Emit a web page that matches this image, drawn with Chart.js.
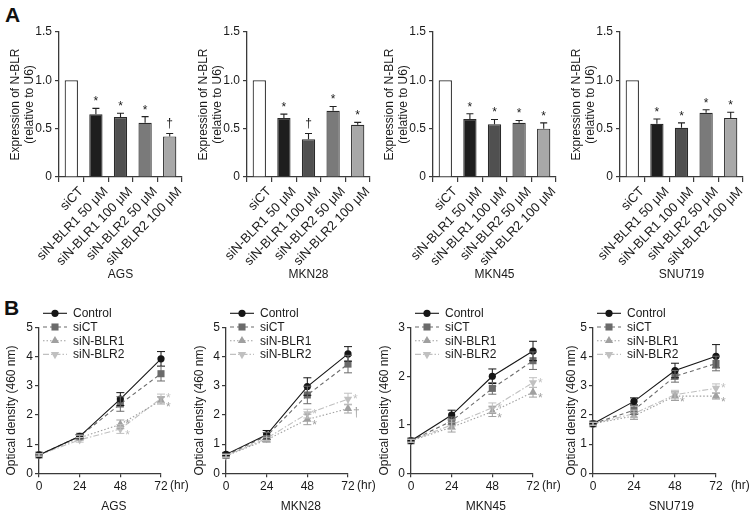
<!DOCTYPE html>
<html><head><meta charset="utf-8">
<script src="https://cdn.jsdelivr.net/npm/chart.js@4/dist/chart.umd.min.js"></script>
<style>
html,body{margin:0;padding:0;background:#fff;}
#wrap{position:relative;width:753px;height:518px;overflow:hidden;font-family:Arial,"Liberation Sans",Helvetica,sans-serif;}
canvas{position:absolute;left:0;top:0;}
.lab{position:absolute;font-weight:bold;font-size:21px;line-height:21px;color:#111;}
</style></head><body>
<div id="wrap">
<div class="lab" style="left:5px;top:4px">A</div>
<div class="lab" style="left:4px;top:297px">B</div>
</div>
<script>
// ---------------- DATA ----------------
const cellLines = ['AGS', 'MKN28', 'MKN45', 'SNU719'];
const barCategories = ['siCT', 'siN-BLR1 50 μM', 'siN-BLR1 100 μM', 'siN-BLR2 50 μM', 'siN-BLR2 100 μM'];
const exprTicks = [0, 0.5, 1.0, 1.5];
const exprTitle = ['Expression of N-BLR', '(relative to U6)'];

const agsExpr = [1.0, 0.65, 0.62, 0.56, 0.42];
const agsExprErr = [0, 0.06, 0.04, 0.065, 0.03];
const agsExprSig = ['', '*', '*', '*', '†'];
const mkn28Expr = [1.0, 0.61, 0.39, 0.685, 0.54];
const mkn28ExprErr = [0, 0.04, 0.06, 0.045, 0.025];
const mkn28ExprSig = ['', '*', '†', '*', '*'];
const mkn45Expr = [1.0, 0.60, 0.545, 0.56, 0.50];
const mkn45ExprErr = [0, 0.055, 0.05, 0.025, 0.06];
const mkn45ExprSig = ['', '*', '*', '*', '*'];
const snu719Expr = [1.0, 0.55, 0.51, 0.665, 0.61];
const snu719ExprErr = [0, 0.05, 0.05, 0.03, 0.06];
const snu719ExprSig = ['', '*', '*', '*', '*'];

const timePoints = [0, 24, 48, 72];
const seriesNames = ['Control', 'siCT', 'siN-BLR1', 'siN-BLR2'];
const odTitle = 'Optical density (460 nm)';
const odTicks5 = [0, 1, 2, 3, 4, 5];
const odTicks3 = [0, 1, 2, 3];

const agsControl = [0.63, 1.27, 2.55, 3.93];
const agsSiCT = [0.63, 1.27, 2.38, 3.42];
const agsBLR1 = [0.63, 1.22, 1.68, 2.50];
const agsBLR2 = [0.63, 1.15, 1.52, 2.57];
const agsControlSD = [0.04, 0.06, 0.22, 0.25];
const agsSiCTSD = [0.04, 0.06, 0.25, 0.25];
const agsBLR1SD = [0.04, 0.08, 0.15, 0.12];
const agsBLR2SD = [0.04, 0.08, 0.15, 0.15];
const agsBLR1Sig = ['', '', '*', '*'];
const agsBLR2Sig = ['', '', '*', '*'];

const mkn28Control = [0.65, 1.32, 2.98, 4.10];
const mkn28SiCT = [0.62, 1.28, 2.69, 3.75];
const mkn28BLR1 = [0.60, 1.15, 1.85, 2.22];
const mkn28BLR2 = [0.60, 1.20, 2.05, 2.55];
const mkn28ControlSD = [0.05, 0.15, 0.30, 0.25];
const mkn28SiCTSD = [0.05, 0.12, 0.30, 0.30];
const mkn28BLR1SD = [0.05, 0.08, 0.18, 0.15];
const mkn28BLR2SD = [0.05, 0.08, 0.15, 0.20];
const mkn28BLR1Sig = ['', '', '*', '†'];
const mkn28BLR2Sig = ['', '', '*', '*'];

const mkn45Control = [0.67, 1.20, 2.00, 2.52];
const mkn45SiCT = [0.67, 1.08, 1.75, 2.32];
const mkn45BLR1 = [0.67, 0.95, 1.27, 1.67];
const mkn45BLR2 = [0.67, 1.00, 1.35, 1.87];
const mkn45ControlSD = [0.03, 0.10, 0.15, 0.20];
const mkn45SiCTSD = [0.03, 0.08, 0.12, 0.18];
const mkn45BLR1SD = [0.03, 0.10, 0.10, 0.10];
const mkn45BLR2SD = [0.03, 0.10, 0.10, 0.10];
const mkn45BLR1Sig = ['', '', '*', '*'];
const mkn45BLR2Sig = ['', '', '*', '*'];

const snu719Control = [1.70, 2.47, 3.53, 4.02];
const snu719SiCT = [1.70, 2.17, 3.33, 3.77];
const snu719BLR1 = [1.70, 1.97, 2.65, 2.65];
const snu719BLR2 = [1.70, 2.05, 2.70, 2.92];
const snu719ControlSD = [0.05, 0.12, 0.25, 0.40];
const snu719SiCTSD = [0.05, 0.15, 0.20, 0.25];
const snu719BLR1SD = [0.05, 0.12, 0.15, 0.10];
const snu719BLR2SD = [0.05, 0.12, 0.15, 0.15];
const snu719BLR1Sig = ['', '', '*', '*'];
const snu719BLR2Sig = ['', '', '', '*'];

// ---------------- STYLE / LAYOUT ----------------
const W = 753, H = 518;
const FONT = 'Arial, "Liberation Sans", Helvetica, sans-serif';
const AX = '#3a3a3a';
const TXT = '#1a1a1a';
const FS = 12;
const FS_CAT = 13;
const BAR_FILLS = ['#ffffff', '#1e1e1e', '#505050', '#7a7a7a', '#a8a8a8'];
const BAR_EDGE = '#2a2a2a';
const LS = [
  {color: '#161616', dash: [], style: 'circle', rot: 0, r: 3.6},
  {color: '#6b6b6b', dash: [4, 3], style: 'rect', rot: 0, r: 5},
  {color: '#a0a0a0', dash: [1.5, 2], style: 'triangle', rot: 0, r: 4.8},
  {color: '#c0c0c0', dash: [6, 2, 1.5, 2], style: 'triangle', rot: 180, r: 4.8}
];

const A_AXIS_X = [59, 247, 433, 620];
const A_PLOT_W = 123, A_TOP = 32, A_BOTTOM = 177, A_YAXIS_W = 50, A_XAXIS_H = 105;
const B_AXIS_X = [39, 226, 411, 593];
const B_PLOT_W = [122, 122, 122, 123];
const B_TOP = 327.7, B_BOTTOM = 473.3, B_YAXIS_W = 35, B_XAXIS_H = 40;
const B_YTITLE_OFF = [27, 26, 26, 21];
const B_HR_GAP = [9, 9, 9, 15];

const wrap = document.getElementById('wrap');
function newCanvas() {
  const c = document.createElement('canvas');
  c.width = W; c.height = H;
  c.style.width = W + 'px'; c.style.height = H + 'px';
  wrap.appendChild(c);
  return c;
}
const font = (size, extra) => Object.assign({family: FONT, size: size || FS}, extra || {});

// ---------- plugins ----------
const barErrPlugin = {
  id: 'barErr',
  afterDatasetsDraw(chart) {
    const ds = chart.data.datasets[0];
    const meta = chart.getDatasetMeta(0);
    const y = chart.scales.y;
    const ctx = chart.ctx;
    ctx.save();
    ctx.strokeStyle = '#222'; ctx.lineWidth = 1.1; ctx.fillStyle = TXT;
    ctx.font = FS + 'px ' + FONT; ctx.textAlign = 'center'; ctx.textBaseline = 'alphabetic';
    meta.data.forEach((bar, i) => {
      const v = ds.data[i], e = ds.errs[i];
      const x = bar.x;
      const yTop = y.getPixelForValue(v), yE = y.getPixelForValue(v + e);
      if (e > 0) {
        ctx.beginPath();
        ctx.moveTo(x, yTop); ctx.lineTo(x, yE);
        ctx.moveTo(x - 3.5, yE); ctx.lineTo(x + 3.5, yE);
        ctx.stroke();
      }
      if (ds.sigs[i]) ctx.fillText(ds.sigs[i], x, yE - (ds.sigs[i] === '*' ? 3 : 6.5));
    });
    ctx.restore();
  }
};

function drawMarker(ctx, st, x, y) {
  ctx.save();
  ctx.fillStyle = st.color; ctx.setLineDash([]);
  ctx.beginPath();
  if (st.style === 'circle') {
    ctx.arc(x, y, st.r, 0, Math.PI * 2);
  } else if (st.style === 'rect') {
    const s = st.r * Math.SQRT1_2;
    ctx.rect(x - s, y - s, 2 * s, 2 * s);
  } else {
    let rad = st.rot * Math.PI / 180;
    const r = st.r;
    ctx.moveTo(x + Math.sin(rad) * r, y - Math.cos(rad) * r);
    rad += 2 * Math.PI / 3;
    ctx.lineTo(x + Math.sin(rad) * r, y - Math.cos(rad) * r);
    rad += 2 * Math.PI / 3;
    ctx.lineTo(x + Math.sin(rad) * r, y - Math.cos(rad) * r);
    ctx.closePath();
  }
  ctx.fill();
  ctx.restore();
}

const lineDecorPlugin = {
  id: 'lineDecor',
  afterDatasetsDraw(chart) {
    const {ctx, scales: {x, y}} = chart;
    const dss = chart.data.datasets;
    dss.forEach((ds, k) => {
      ctx.save();
      ctx.strokeStyle = ds.borderColor; ctx.lineWidth = 1; ctx.setLineDash([]);
      ds.data.forEach((p, j) => {
        const e = ds.errs[j];
        if (!e) return;
        const px = x.getPixelForValue(p.x);
        const y1 = y.getPixelForValue(p.y + e), y2 = y.getPixelForValue(p.y - e);
        ctx.beginPath();
        ctx.moveTo(px, y1); ctx.lineTo(px, y2);
        ctx.moveTo(px - 4, y1); ctx.lineTo(px + 4, y1);
        ctx.moveTo(px - 4, y2); ctx.lineTo(px + 4, y2);
        ctx.stroke();
      });
      if (ds.sigs) {
        const other = dss[k === 2 ? 3 : 2];
        ctx.fillStyle = ds.borderColor;
        ctx.font = FS + 'px ' + FONT; ctx.textAlign = 'left'; ctx.textBaseline = 'alphabetic';
        ds.data.forEach((p, j) => {
          const s = ds.sigs[j];
          if (!s) return;
          const higher = p.y >= other.data[j].y;
          const px = x.getPixelForValue(p.x) + 5;
          const py = y.getPixelForValue(p.y) + (s === '*' ? 7 : 4) + (higher ? -3 : 3);
          ctx.fillText(s, px, py);
        });
      }
      ctx.restore();
    });
  },
  afterDraw(chart) {
    const o = chart.options.plugins.lineDecor;
    const {ctx, chartArea, scales: {x}} = chart;
    ctx.save();
    ctx.font = FS + 'px ' + FONT; ctx.textBaseline = 'middle'; ctx.textAlign = 'left';
    chart.data.datasets.forEach((ds, k) => {
      const st = LS[k];
      const ly = 313.3 + k * 13.7;
      const lx = chartArea.left + 4;
      ctx.strokeStyle = st.color; ctx.lineWidth = 1.1; ctx.setLineDash(st.dash);
      ctx.beginPath(); ctx.moveTo(lx, ly); ctx.lineTo(lx + 24, ly); ctx.stroke();
      ctx.setLineDash([]);
      drawMarker(ctx, st, lx + 12, ly);
      ctx.fillStyle = TXT;
      ctx.fillText(ds.label, lx + 30, ly + 0.5);
    });
    const last = timePoints[timePoints.length - 1];
    const hrX = x.getPixelForValue(last) + o.hrGap;
    ctx.fillStyle = TXT; ctx.textAlign = 'left'; ctx.textBaseline = 'middle';
    ctx.fillText('(hr)', hrX, 485.5);
    const hrEnd = hrX + ctx.measureText('(hr)').width;
    ctx.textAlign = 'center';
    ctx.fillText(o.title, (chartArea.left + hrEnd) / 2, 507);
    ctx.translate(chartArea.left - o.yOff, (chartArea.top + chartArea.bottom) / 2 + 10);
    ctx.rotate(-Math.PI / 2);
    ctx.fillText(odTitle, 0, 0);
    ctx.restore();
  }
};

// ---------- panel builders ----------
function barChart(i, values, errs, sigs) {
  const ax = A_AXIS_X[i];
  new Chart(newCanvas(), {
    type: 'bar',
    data: {
      labels: barCategories,
      datasets: [{
        data: values, backgroundColor: BAR_FILLS, borderColor: BAR_EDGE, borderWidth: 1.2,
        barPercentage: 0.54, categoryPercentage: 1, errs: errs, sigs: sigs
      }]
    },
    options: {
      responsive: false, animation: false, devicePixelRatio: 1, events: [],
      layout: {padding: {left: ax - A_YAXIS_W, right: W - ax - A_PLOT_W, top: A_TOP, bottom: H - A_BOTTOM - A_XAXIS_H}},
      plugins: {legend: {display: false}, tooltip: {enabled: false}},
      scales: {
        x: {
          grid: {drawOnChartArea: false, drawTicks: true, tickLength: 5, color: AX, lineWidth: 1.2, offset: true},
          border: {display: true, color: AX, width: 1.3},
          ticks: {minRotation: 46, maxRotation: 46, autoSkip: false, font: font(FS_CAT), color: TXT, padding: 2, labelOffset: 10},
          title: {display: true, text: cellLines[i], font: font(), color: TXT, padding: {top: 0, bottom: 0}},
          afterFit: s => { s.height = A_XAXIS_H; s.paddingLeft = 0; s.paddingRight = 0; }
        },
        y: {
          min: 0, max: 1.5,
          afterBuildTicks: s => { s.ticks = exprTicks.map(v => ({value: v})); },
          ticks: {font: font(), color: TXT, padding: 3, callback: v => v === 0 ? '0' : v.toFixed(1)},
          grid: {drawOnChartArea: false, drawTicks: true, tickLength: 4, color: AX, lineWidth: 1.2},
          border: {display: true, color: AX, width: 1.3},
          title: {display: true, text: exprTitle, font: font(FS, {lineHeight: 1.1}), color: TXT, padding: {top: 0.5, bottom: 0}},
          afterFit: s => { s.width = A_YAXIS_W; }
        }
      }
    },
    plugins: [barErrPlugin]
  });
}

function lineChart(i, vals, errs, sigs, yTicks) {
  const ax = B_AXIS_X[i];
  const yMax = yTicks[yTicks.length - 1];
  new Chart(newCanvas(), {
    type: 'line',
    data: {
      datasets: seriesNames.map((name, k) => ({
        label: name,
        data: timePoints.map((t, j) => ({x: t, y: vals[k][j]})),
        borderColor: LS[k].color, backgroundColor: LS[k].color, borderDash: LS[k].dash, borderWidth: 1.1,
        pointStyle: LS[k].style, pointRotation: LS[k].rot, pointRadius: LS[k].r, pointBorderWidth: 0,
        pointBackgroundColor: LS[k].color, clip: false, tension: 0, fill: false,
        errs: errs[k], sigs: sigs[k]
      }))
    },
    options: {
      responsive: false, animation: false, devicePixelRatio: 1, events: [],
      layout: {padding: {left: ax - B_YAXIS_W, right: W - ax - B_PLOT_W[i], top: B_TOP, bottom: H - B_BOTTOM - B_XAXIS_H}},
      plugins: {legend: {display: false}, tooltip: {enabled: false},
        lineDecor: {title: cellLines[i], yOff: B_YTITLE_OFF[i], hrGap: B_HR_GAP[i]}},
      scales: {
        x: {
          type: 'linear', min: timePoints[0], max: timePoints[timePoints.length - 1],
          afterBuildTicks: s => { s.ticks = timePoints.map(v => ({value: v})); },
          ticks: {font: font(), color: TXT, padding: 2, maxRotation: 0, autoSkip: false},
          grid: {drawOnChartArea: false, drawTicks: true, tickLength: 4, color: AX, lineWidth: 1.2},
          border: {display: true, color: AX, width: 1.3},
          afterFit: s => { s.height = B_XAXIS_H; s.paddingLeft = 0; s.paddingRight = 0; }
        },
        y: {
          min: 0, max: yMax,
          afterBuildTicks: s => { s.ticks = yTicks.map(v => ({value: v})); },
          ticks: {font: font(), color: TXT, padding: 2},
          grid: {drawOnChartArea: false, drawTicks: true, tickLength: 4, color: AX, lineWidth: 1.2},
          border: {display: true, color: AX, width: 1.3},
          afterFit: s => { s.width = B_YAXIS_W; }
        }
      }
    },
    plugins: [lineDecorPlugin]
  });
}

barChart(0, agsExpr, agsExprErr, agsExprSig);
barChart(1, mkn28Expr, mkn28ExprErr, mkn28ExprSig);
barChart(2, mkn45Expr, mkn45ExprErr, mkn45ExprSig);
barChart(3, snu719Expr, snu719ExprErr, snu719ExprSig);

lineChart(0, [agsControl, agsSiCT, agsBLR1, agsBLR2], [agsControlSD, agsSiCTSD, agsBLR1SD, agsBLR2SD],
  [null, null, agsBLR1Sig, agsBLR2Sig], odTicks5);
lineChart(1, [mkn28Control, mkn28SiCT, mkn28BLR1, mkn28BLR2], [mkn28ControlSD, mkn28SiCTSD, mkn28BLR1SD, mkn28BLR2SD],
  [null, null, mkn28BLR1Sig, mkn28BLR2Sig], odTicks5);
lineChart(2, [mkn45Control, mkn45SiCT, mkn45BLR1, mkn45BLR2], [mkn45ControlSD, mkn45SiCTSD, mkn45BLR1SD, mkn45BLR2SD],
  [null, null, mkn45BLR1Sig, mkn45BLR2Sig], odTicks3);
lineChart(3, [snu719Control, snu719SiCT, snu719BLR1, snu719BLR2], [snu719ControlSD, snu719SiCTSD, snu719BLR1SD, snu719BLR2SD],
  [null, null, snu719BLR1Sig, snu719BLR2Sig], odTicks5);
</script>
</body></html>
